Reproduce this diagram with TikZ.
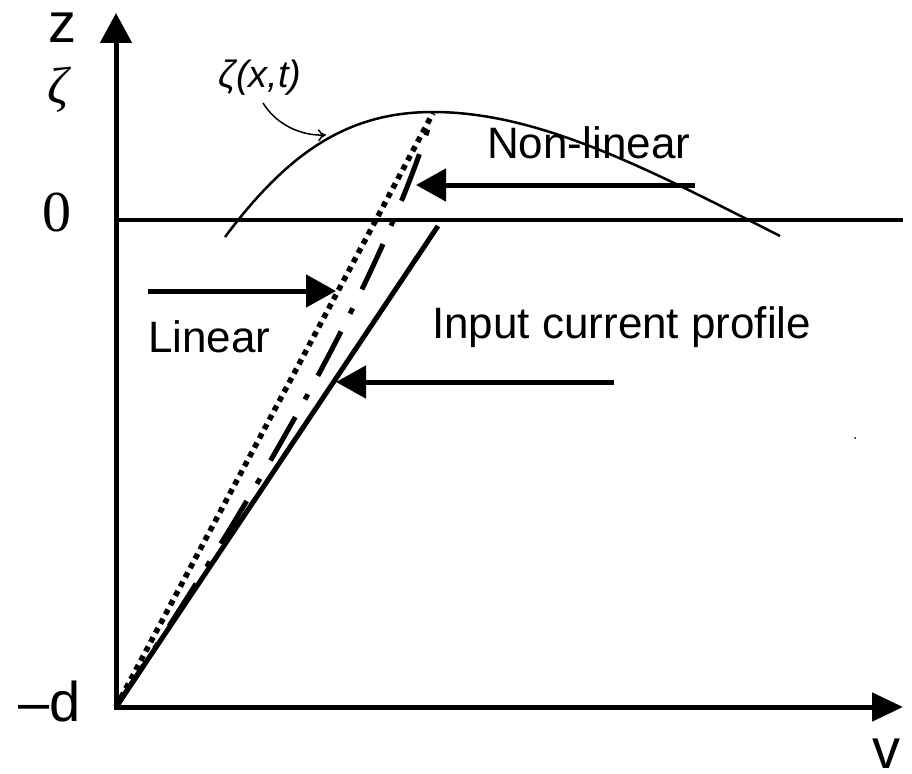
\documentclass[tikz,border=0pt]{standalone}
\usepackage{fontspec}
\setmainfont{Liberation Sans}
\newfontfamily\serifnum{Liberation Serif}
\usetikzlibrary{arrows.meta}
\tikzset{
  lbl/.style={inner sep=0pt, font=\fontsize{44}{50}\selectfont},
  axislbl/.style={inner sep=0pt, font=\fontsize{56}{60}\selectfont},
  axisline/.style={line width=5pt, line join=miter, line cap=butt},
  bigarrow/.style={line width=5pt, -{Triangle[length=30pt,width=32pt]}},
  solidprof/.style={line width=5pt},
  dottedprof/.style={line width=5.5pt, dash pattern=on 5.5pt off 5pt},
  dashdotprof/.style={line width=5pt, dash pattern=on 50pt off 20pt on 6pt off 21pt},
  surface/.style={line width=2.5pt},
  zeroline/.style={line width=3.5pt},
  thinarrow/.style={line width=1.5pt, -{To[length=8pt,width=12pt]}}
}
\begin{document}
\begin{tikzpicture}[x=1pt,y=-1pt]
\useasboundingbox (0,0) rectangle (912,773);
% key points
\coordinate (O) at (116,707);
\coordinate (ztop) at (116,13);
\coordinate (vend) at (903,707);
\coordinate (zl) at (116,220);
\coordinate (zr) at (903,220);
\coordinate (peak) at (433,113);
\coordinate (solidtop) at (438,226);
\coordinate (sstart) at (225,237);
\coordinate (stop) at (433,112);
\coordinate (send) at (780,236);
% axes
\draw[axisline, {Triangle[length=30pt,width=31pt]}-{Triangle[length=31pt,width=28pt]}] (ztop) -- (O) -- (vend);
% zero line
\draw[zeroline] (zl) -- (zr);
% free surface
\draw[surface] (sstart) .. controls (290,150) and (350,112) .. (stop)
               .. controls (540,112) and (650,170) .. (send);
% profiles
\draw[solidprof] (O) -- (solidtop);
\draw[dottedprof] (O) -- (peak);
\draw[dashdotprof] (O) .. controls (277,466) and (388,262) .. (peak);
% labels axes
\node[axislbl] (zlab) at (62,28) {z};
\node[inner sep=0pt, font=\serifnum\itshape\fontsize{52}{56}\selectfont] (zetalab) at (58,90) {ζ};
\node[inner sep=0pt, font=\serifnum\fontsize{58}{62}\selectfont] (zerolab) at (57,212) {0};
\node[axislbl, anchor=base west] (dlab) at (18,721) {–d};
\node[axislbl, anchor=base] (vlab) at (886,768) {v};
% surface label
\node[inner sep=0pt, font=\itshape\fontsize{38}{42}\selectfont] (surflab) at (260,78) {ζ(x,t)};
\coordinate (sa) at (263,103);
\coordinate (sb) at (326,135);
\draw[thinarrow] (sa) .. controls (276,124) and (300,136) .. (sb);
% text labels
\node[lbl, anchor=base west] (nonlin) at (487,158) {Non-linear};
\node[lbl, anchor=base west] (lin) at (148,352) {Linear};
\node[lbl, anchor=base west] (inp) at (432,338) {Input current profile};
% arrows
\coordinate (na) at (695,185);
\coordinate (nb) at (416,185);
\draw[bigarrow] (na) -- (nb);
\coordinate (la) at (148,291);
\coordinate (lb) at (336,291);
\draw[bigarrow] (la) -- (lb);
\coordinate (ia) at (614,382);
\coordinate (ib) at (336,382);
\draw[bigarrow] (ia) -- (ib);
% stray dot
\fill (855,438) circle (1pt);
\end{tikzpicture}
\end{document}
